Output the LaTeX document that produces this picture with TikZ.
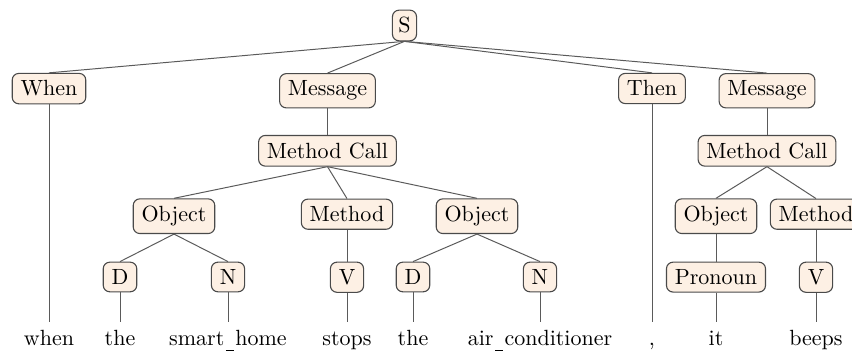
\documentclass[tikz,border=0pt]{standalone}
\usepackage{xcolor}
\definecolor{boxfill}{HTML}{FDF0E4}
\definecolor{boxdraw}{HTML}{4A4A4A}
\definecolor{edgec}{HTML}{5A5A5A}
\newcommand{\lowbar}{\kern0.7pt\rule[-2.3pt]{3.6pt}{0.4pt}\kern0.7pt}
\tikzset{
  cat/.style={draw=boxdraw, fill=boxfill, rounded corners=3pt, line width=0.5pt, anchor=base, inner xsep=3.8pt, inner ysep=3.33pt},
  word/.style={anchor=base, text height=7pt, inner sep=3.33pt},
  br/.style={draw=edgec, line width=0.45pt}
}
\begin{document}
\begin{tikzpicture}[x=0.4545pt, y=-0.4545pt]
\useasboundingbox (0,0) rectangle (852,354);
% level 0
\node[cat, inner xsep=2.7pt] (S) at (404.5,33) {S};
% level 1
\node[cat] (when) at (49,96) {When};
\node[cat] (msg1) at (327.5,96) {Message};
\node[cat] (then) at (652,96) {Then};
\node[cat] (msg2) at (767,96) {Message};
% level 2
\node[cat] (mc1) at (327.5,158.3) {Method Call};
\node[cat] (mc2) at (767,158.3) {Method Call};
% level 3
\node[cat] (obj1) at (174,221.7) {Object};
\node[cat] (meth1) at (347,221.7) {Method};
\node[cat] (obj2) at (477,221.7) {Object};
\node[cat] (obj3) at (716,221.7) {Object};
\node[cat] (meth2) at (816,221.7) {Method};
% level 4
\node[cat] (d1) at (120,284.5) {D};
\node[cat] (n1) at (228,284.5) {N};
\node[cat] (v1) at (347,284.5) {V};
\node[cat] (d2) at (413,284.5) {D};
\node[cat] (n2) at (540,284.5) {N};
\node[cat] (pron) at (716,284.5) {Pronoun};
\node[cat] (v2) at (816,284.5) {V};
% words
\node[word] (w1) at (49,345.5) {when};
\node[word] (w2) at (120,345.5) {the};
\node[word] (w3) at (228,345.5) {smart\lowbar home};
\node[word] (w4) at (347,345.5) {stops};
\node[word] (w5) at (413,345.5) {the};
\node[word] (w6) at (540,345.5) {air\lowbar conditioner};
\node[word] (w7) at (652,345.5) {,};
\node[word] (w8) at (716,345.5) {it};
\node[word] (w9) at (816,345.5) {beeps};
% edges
\draw[br] (S.south) -- (when.north);
\draw[br] (S.south) -- (msg1.north);
\draw[br] (S.south) -- (then.north);
\draw[br] (S.south) -- (msg2.north);
\draw[br] (when.south) -- (w1.north);
\draw[br] (msg1.south) -- (mc1.north);
\draw[br] (then.south) -- (w7.north);
\draw[br] (msg2.south) -- (mc2.north);
\draw[br] (mc1.south) -- (obj1.north);
\draw[br] (mc1.south) -- (meth1.north);
\draw[br] (mc1.south) -- (obj2.north);
\draw[br] (mc2.south) -- (obj3.north);
\draw[br] (mc2.south) -- (meth2.north);
\draw[br] (obj1.south) -- (d1.north);
\draw[br] (obj1.south) -- (n1.north);
\draw[br] (meth1.south) -- (v1.north);
\draw[br] (obj2.south) -- (d2.north);
\draw[br] (obj2.south) -- (n2.north);
\draw[br] (obj3.south) -- (pron.north);
\draw[br] (meth2.south) -- (v2.north);
\draw[br] (d1.south) -- (w2.north);
\draw[br] (n1.south) -- (w3.north);
\draw[br] (v1.south) -- (w4.north);
\draw[br] (d2.south) -- (w5.north);
\draw[br] (n2.south) -- (w6.north);
\draw[br] (pron.south) -- (w8.north);
\draw[br] (v2.south) -- (w9.north);
\end{tikzpicture}
\end{document}
